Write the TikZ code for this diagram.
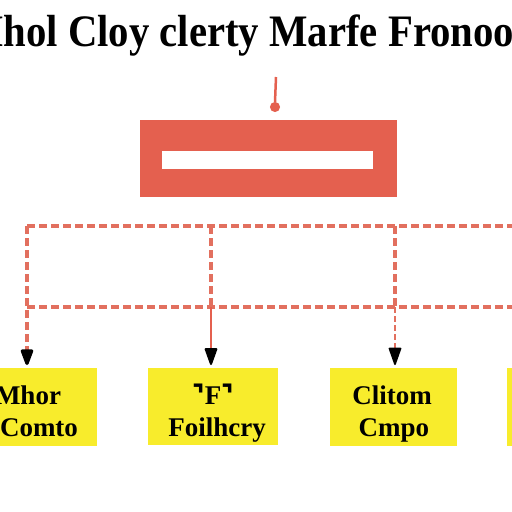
\documentclass[tikz,border=0pt]{standalone}
\usepackage{fontspec}
\setmainfont{Liberation Serif}
\newfontfamily\symfont{DejaVu Sans}
\usetikzlibrary{arrows.meta}
\definecolor{hred}{HTML}{E4604F}
\definecolor{dred}{HTML}{E2705F}
\definecolor{byel}{HTML}{F8EC2C}
\tikzset{
  dashline/.style={dred, line width=3.2pt, dash pattern=on 8pt off 4pt},
  thindash/.style={dred, line width=1.6pt, dash pattern=on 6pt off 3pt},
  solidline/.style={hred, line width=2pt},
  tipdown/.style={-{Triangle[width=13pt,length=19pt,color=black,fill=black,round]}},
  ybox/.style={fill=byel, draw=none, inner sep=0pt, anchor=north west},
  btext/.style={font=\fontsize{27}{28}\selectfont\bfseries, text=black, inner sep=0pt, anchor=base},
}
\begin{document}
\begin{tikzpicture}[x=1pt,y=-1pt]
\useasboundingbox (0,0) rectangle (512,512);
\fill[white] (0,0) rectangle (512,512);
% title
\node[anchor=base west, inner sep=0pt, font=\fontsize{45}{46}\selectfont\bfseries, xscale=0.905] (title) at (-35,46) {Mhol Cloy clerty Marfe Fronoo};
% pin
\coordinate (pintop) at (276,77);
\node[circle, draw=hred, fill=hred, line width=1pt, minimum size=9pt, inner sep=0pt] (pin) at (275,107) {};
\draw[hred, line width=2.5pt] (pintop) -- (pin.north);
% header red box
\node[fill=hred, draw=none, inner sep=0pt, minimum width=257pt, minimum height=77pt, anchor=north west] (hdr) at (140,120) {};
\node[fill=white, draw=none, inner sep=0pt, minimum width=211pt, minimum height=18pt, anchor=north west] (hin) at (162,151) {};
% yellow boxes
\node[ybox, minimum width=97pt, minimum height=78pt] (b1) at (0,368) {};
\node[ybox, minimum width=130pt, minimum height=77pt] (b2) at (148,368) {};
\node[ybox, minimum width=127pt, minimum height=78pt] (b3) at (330,368) {};
\node[ybox, minimum width=20pt, minimum height=78pt] (b4) at (507,368) {};
% box texts
\node[btext] (t1a) at (28,404) {Mhor};
\node[btext] (t1b) at (39,436) {Comto};
\node[btext] (t2a) at (213,404) {{\symfont ⌝}F{\symfont ⌝}};
\node[btext] (t2b) at (217,436) {Foilhcry};
\node[btext] (t3a) at (392,404) {Clitom};
\node[btext] (t3b) at (394,436) {Cmpo};
% dashed grid
\coordinate (tl) at (27,226);
\coordinate (tr) at (514,226);
\coordinate (bl) at (27,307);
\coordinate (br) at (514,307);
\coordinate (j2t) at (211,226);
\coordinate (j2b) at (211,307);
\coordinate (j3t) at (395,226);
\coordinate (j3b) at (395,307);
\draw[dashline] (tl) -- (tr);
\draw[dashline] (bl) -- (br);
\draw[dashline] (j2t) -- (j2b);
\draw[dashline] (j3t) -- (j3b);
% connectors to boxes
\draw[dashline, tipdown, shorten >=3pt] (tl) -- (tl |- b1.north);
\draw[solidline, tipdown, shorten >=3pt] (j2b) -- (j2b |- b2.north);
\draw[thindash, tipdown, shorten >=3pt] (j3b) -- (j3b |- b3.north);
\end{tikzpicture}
\end{document}
